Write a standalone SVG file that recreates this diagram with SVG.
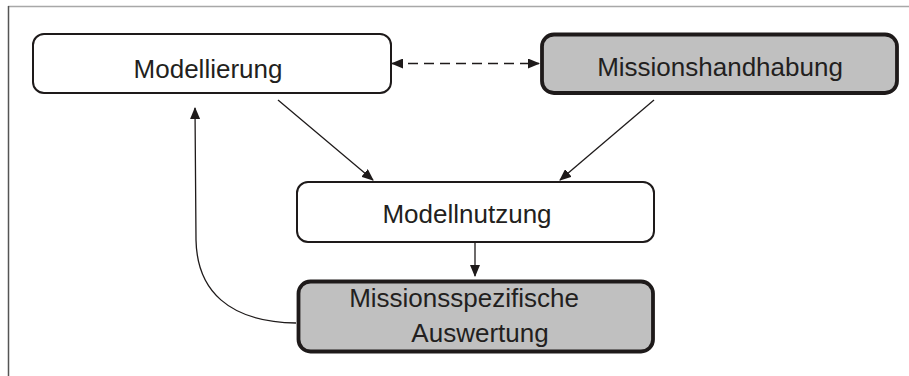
<svg xmlns="http://www.w3.org/2000/svg" width="909" height="376" viewBox="0 0 909 376">
  <style>
    .box { fill: #ffffff; stroke: #1e1a1a; stroke-width: 2; }
    .box.hl { fill: #c0c0c0; stroke-width: 3.8; }
    .lbl { font-family: "Liberation Sans", Arial, sans-serif; font-size: 26px; fill: #231f20; text-anchor: middle; }
    .edge { fill: none; stroke: #1e1a1a; stroke-width: 1.3; }
    .dash { stroke-dasharray: 10 6; }
  </style>
  <defs>
    <marker id="head" viewBox="0 0 12 10" refX="11" refY="5" markerWidth="12" markerHeight="10" markerUnits="userSpaceOnUse" orient="auto-start-reverse">
      <path d="M0,0 L12,5 L0,10 Z" fill="#1e1a1a"/>
    </marker>
  </defs>

  <!-- frame -->
  <g id="frame">
    <line x1="8" y1="6.5" x2="909" y2="6.5" stroke="#a8a8a8" stroke-width="1.5"/>
    <line x1="8.5" y1="6" x2="8.5" y2="376" stroke="#555555" stroke-width="1.5"/>
  </g>

  <g id="connectors">
    <line class="edge dash" x1="392" y1="63.5" x2="539" y2="63.5" marker-start="url(#head)" marker-end="url(#head)"/>
    <line class="edge" x1="278" y1="100" x2="373" y2="180" marker-end="url(#head)"/>
    <line class="edge" x1="654" y1="100" x2="560" y2="180" marker-end="url(#head)"/>
    <line class="edge" x1="475" y1="243" x2="475" y2="276" marker-end="url(#head)"/>
    <path class="edge" d="M296,323 C228,322 197,290 196,240 L195,108" marker-end="url(#head)"/>
  </g>

  <g id="modellierung">
    <rect class="box" x="33" y="34" width="358" height="59" rx="11"/>
    <text class="lbl" x="208" y="78">Modellierung</text>
  </g>

  <g id="missionshandhabung">
    <rect class="box hl" x="542" y="34.5" width="355" height="58.5" rx="12"/>
    <text class="lbl" x="720" y="76">Missionshandhabung</text>
  </g>

  <g id="modellnutzung">
    <rect class="box" x="297" y="182" width="357" height="60" rx="11"/>
    <text class="lbl" x="467" y="223">Modellnutzung</text>
  </g>

  <g id="auswertung">
    <rect class="box hl" x="298.5" y="281.5" width="354.5" height="70" rx="12"/>
    <text class="lbl" x="464" y="307">Missionsspezifische</text>
    <text class="lbl" x="480" y="342">Auswertung</text>
  </g>
</svg>
